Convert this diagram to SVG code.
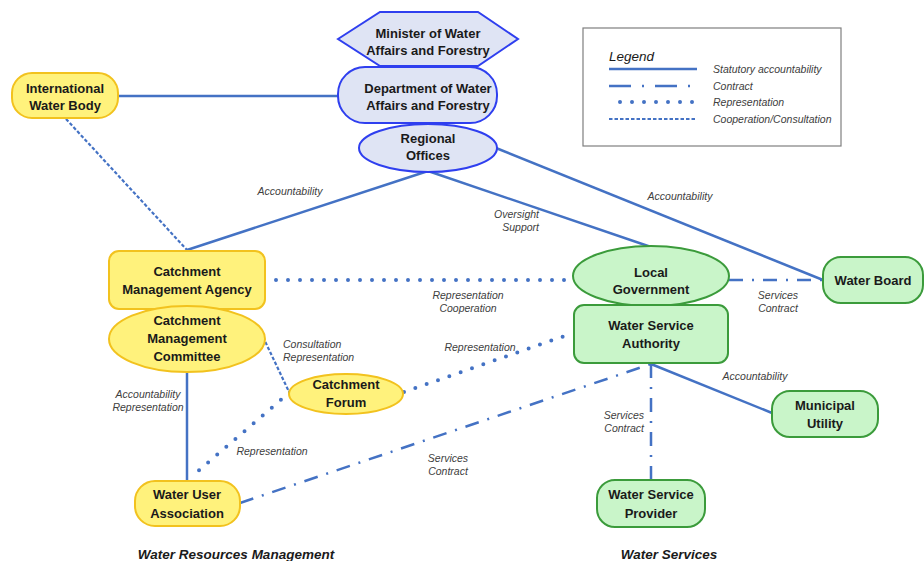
<svg xmlns="http://www.w3.org/2000/svg" width="924" height="561" viewBox="0 0 924 561">
<style>
text{font-family:"Liberation Sans",Arial,sans-serif}
.n{font-size:13px;font-weight:bold;fill:#1a1a1a;text-anchor:middle}
.l{font-size:10.5px;font-style:italic;fill:#404040}
.c{text-anchor:middle}
.r{text-anchor:end}
.blue{fill:#dfe4f4;stroke:#2f3fef;stroke-width:2}
.yel{fill:#fff27c;stroke:#f2c21e;stroke-width:2}
.grn{fill:#c9f5c9;stroke:#3b9b3b;stroke-width:2}
.s{stroke:#4472c4;stroke-width:2.5;fill:none}
.ct{stroke:#4472c4;stroke-width:2.5;fill:none;stroke-dasharray:14 9 2 9}
.rp{stroke:#4472c4;stroke-width:4;fill:none;stroke-linecap:round;stroke-dasharray:0 12}
.cp{stroke:#4472c4;stroke-width:2.2;fill:none;stroke-dasharray:3.5 2}
</style>
<rect width="924" height="561" fill="#fff"/>
<g id="connectors">
<line class="s" x1="118" y1="96" x2="340" y2="96"/>
<line class="cp" x1="66" y1="119" x2="187" y2="250"/>
<line class="s" x1="428" y1="171" x2="187" y2="250"/>
<line class="s" x1="428" y1="171" x2="651" y2="247"/>
<line class="s" x1="496" y1="148" x2="823" y2="280"/>
<line class="rp" x1="276" y1="280" x2="571" y2="280"/>
<line class="ct" x1="729" y1="280" x2="823" y2="280"/>
<line class="cp" x1="263" y1="337" x2="291" y2="396"/>
<line class="rp" x1="404" y1="392" x2="573" y2="333"/>
<line class="s" x1="187" y1="372" x2="187" y2="481"/>
<line class="rp" x1="290" y1="392" x2="197" y2="472"/>
<line class="ct" x1="240" y1="503" x2="651" y2="364"/>
<line class="ct" x1="651" y1="364" x2="651" y2="480"/>
<line class="s" x1="651" y1="364" x2="772" y2="413"/>
<text class="l c" x="290" y="195">Accountability</text>
<text class="l r" x="539" y="218">Oversight</text>
<text class="l r" x="539" y="231">Support</text>
<text class="l c" x="680" y="200">Accountability</text>
<text class="l c" x="468" y="299">Representation</text>
<text class="l c" x="468" y="312">Cooperation</text>
<text class="l c" x="778" y="299">Services</text>
<text class="l c" x="778" y="312">Contract</text>
<text class="l" x="283" y="348">Consultation</text>
<text class="l" x="283" y="361">Representation</text>
<text class="l c" x="480" y="351">Representation</text>
<text class="l c" x="148" y="398">Accountability</text>
<text class="l c" x="148" y="411">Representation</text>
<text class="l c" x="272" y="455">Representation</text>
<text class="l c" x="448" y="462">Services</text>
<text class="l c" x="448" y="475">Contract</text>
<text class="l r" x="644" y="419">Services</text>
<text class="l r" x="644" y="432">Contract</text>
<text class="l c" x="755" y="380">Accountability</text>
</g>
<g id="minister">
<polygon class="blue" points="338,39 380,12 478,12 518,39 478,66 380,66"/>
<text class="n" x="428" y="38">Minister of Water</text>
<text class="n" x="428" y="55">Affairs and Forestry</text>
</g>
<g id="department">
<rect class="blue" x="338" y="67" width="159" height="56" rx="27"/>
<text class="n" x="428" y="93">Department of Water</text>
<text class="n" x="428" y="110">Affairs and Forestry</text>
</g>
<g id="regional">
<ellipse class="blue" cx="428" cy="148" rx="69" ry="24"/>
<text class="n" x="428" y="143">Regional</text>
<text class="n" x="428" y="160">Offices</text>
</g>
<g id="intl">
<rect class="yel" x="12" y="73" width="106" height="45" rx="20"/>
<text class="n" x="65" y="93">International</text>
<text class="n" x="65" y="110">Water Body</text>
</g>
<g id="cma">
<rect class="yel" x="109" y="251" width="156" height="58" rx="10"/>
<text class="n" x="187" y="276">Catchment</text>
<text class="n" x="187" y="294">Management Agency</text>
</g>
<g id="cmc">
<ellipse class="yel" cx="187" cy="339" rx="78" ry="33"/>
<text class="n" x="187" y="325">Catchment</text>
<text class="n" x="187" y="343">Management</text>
<text class="n" x="187" y="361">Committee</text>
</g>
<g id="forum">
<ellipse class="yel" cx="346" cy="394" rx="57" ry="20"/>
<text class="n" x="346" y="389">Catchment</text>
<text class="n" x="346" y="407">Forum</text>
</g>
<g id="wua">
<rect class="yel" x="135" y="481" width="105" height="45" rx="20"/>
<text class="n" x="187" y="499">Water User</text>
<text class="n" x="187" y="518">Association</text>
</g>
<g id="localgov">
<ellipse class="grn" cx="651" cy="276" rx="78" ry="30"/>
<text class="n" x="651" y="277">Local</text>
<text class="n" x="651" y="294">Government</text>
</g>
<g id="wsa">
<rect class="grn" x="574" y="305" width="154" height="58" rx="10"/>
<text class="n" x="651" y="330">Water Service</text>
<text class="n" x="651" y="348">Authority</text>
</g>
<g id="waterboard">
<rect class="grn" x="823" y="257" width="100" height="46" rx="18"/>
<text class="n" x="873" y="285">Water Board</text>
</g>
<g id="municipal">
<rect class="grn" x="772" y="391" width="106" height="46" rx="18"/>
<text class="n" x="825" y="410">Municipal</text>
<text class="n" x="825" y="428">Utility</text>
</g>
<g id="wsp">
<rect class="grn" x="597" y="480" width="108" height="47" rx="18"/>
<text class="n" x="651" y="499">Water Service</text>
<text class="n" x="651" y="518">Provider</text>
</g>
<g id="legend">
<rect x="583" y="28" width="258" height="118" fill="#fff" stroke="#7f7f7f" stroke-width="1.2"/>
<text x="609" y="61" style="font-size:13.5px;font-style:italic;fill:#1a1a1a">Legend</text>
<line class="s" x1="609" y1="69" x2="697" y2="69"/>
<line class="ct" x1="609" y1="86" x2="697" y2="86" style="stroke-dasharray:22 11 2 11"/>
<line class="rp" x1="620" y1="102" x2="697" y2="102"/>
<line class="cp" x1="609" y1="119" x2="697" y2="119"/>
<text class="l" x="713" y="73">Statutory accountability</text>
<text class="l" x="713" y="90">Contract</text>
<text class="l" x="713" y="106">Representation</text>
<text class="l" x="713" y="123">Cooperation/Consultation</text>
</g>
<text x="236" y="559" style="font-size:13.5px;font-style:italic;font-weight:bold;fill:#1a1a1a;text-anchor:middle">Water Resources Management</text>
<text x="669" y="559" style="font-size:13.5px;font-style:italic;font-weight:bold;fill:#1a1a1a;text-anchor:middle">Water Services</text>
</svg>
